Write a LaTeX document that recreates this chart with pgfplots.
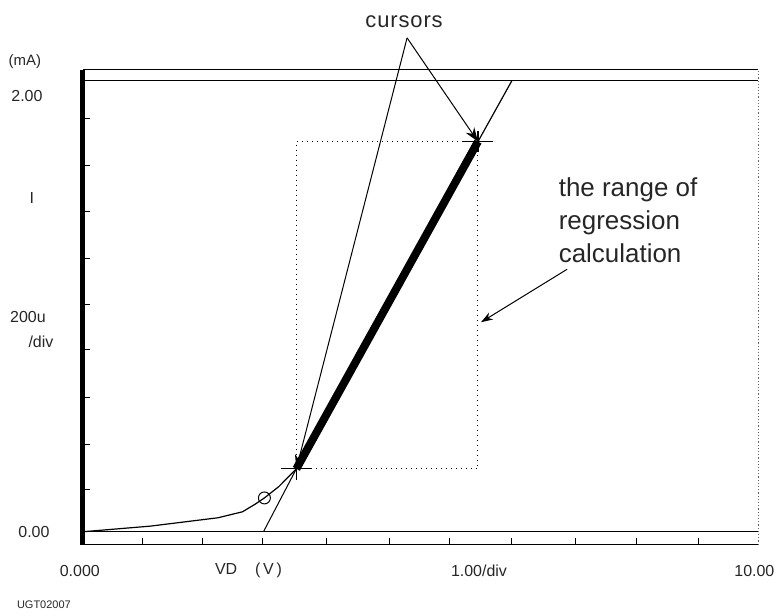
\documentclass[border=0pt]{standalone}
\usepackage{fontspec}
\setmainfont{Liberation Sans}
\usepackage{pgfplots}
\pgfplotsset{compat=1.18}
\usetikzlibrary{arrows.meta}
\begin{document}
\begin{tikzpicture}
\begin{axis}[
 x=33.85pt, y=113pt,
 xmin=0, xmax=10, ymin=-0.0575, ymax=2.049,
 axis x line*=bottom, axis y line*=left,
 axis line style={-},
 y axis line style={line width=2.5pt},
 x axis line style={line width=0.6pt},
 xtick={0.886,1.773,2.659,3.604,4.535,5.421,6.352,7.297,8.198,9.114},
 ytick={0.186,0.389,0.597,0.810,1.009,1.212,1.420,1.624,1.832},
 xticklabels={}, yticklabels={},
 tick align=inside, major tick length=3.5pt,
 tick style={black, line width=0.5pt},
 clip=false,
]
\path (axis cs:-1.226,-0.354) rectangle (axis cs:10.310,2.358);
% frame lines
\addplot[black, line width=0.5pt] coordinates {(0,2.049) (10,2.049)};
\addplot[black, line width=0.6pt] coordinates {(0,2.0) (10,2.0)};
\addplot[black, line width=0.6pt] coordinates {(0,0) (10,0)};
\addplot[black!60, line width=0.6pt, densely dotted] coordinates {(10,-0.0575) (10,2.049)};
% dotted regression range
\addplot[black, line width=0.5pt, dotted] coordinates {(3.161,0.279) (5.849,0.279) (5.849,1.730) (3.161,1.730) (3.161,0.279)};
% measured curve
\addplot[black, line width=0.6pt] coordinates {(0,0) (1,0.025) (2,0.062) (2.363,0.0885) (2.55,0.122) (2.688,0.150) (2.9,0.200) (3.161,0.279)};
\addplot[black, line width=4pt] coordinates {(3.161,0.279) (5.849,1.730)};
\addplot[black, line width=0.6pt] coordinates {(5.849,1.730) (6.351,2.0)};
% regression line
\addplot[black, line width=0.5pt] coordinates {(2.674,0) (3.161,0.279)};
% marker circle
\addplot[black, only marks, mark=o, mark size=3pt, line width=0.5pt] coordinates {(2.688,0.150)};
% cursors crosshairs
\addplot[black, line width=0.6pt] coordinates {(2.94,0.279) (3.38,0.279)};
\addplot[black, line width=0.6pt] coordinates {(3.161,0.229) (3.161,0.329)};
\addplot[black, line width=0.6pt] coordinates {(5.63,1.730) (6.07,1.730)};
\addplot[black, line width=0.6pt] coordinates {(5.849,1.685) (5.849,1.775)};
% cursor arrows
\draw[black, line width=0.5pt, -{Stealth[length=7pt,width=5pt]}] (axis cs:4.80,2.190) -- (axis cs:3.161,0.279);
\draw[black, line width=0.5pt, -{Stealth[length=7pt,width=5pt]}] (axis cs:4.80,2.190) -- (axis cs:5.849,1.730);
\draw[black, line width=0.5pt, -{Stealth[length=6pt,width=4pt]}] (axis cs:7.169,1.164) -- (axis cs:5.894,0.929);
% texts
\node[black!85, font=\fontsize{11}{13}\selectfont\addfontfeatures{LetterSpace=4}] at (axis cs:4.756,2.261) {cursors};
\node[black!85, anchor=west, align=left, font=\fontsize{13}{16.5}\selectfont] at (axis cs:6.942,1.381) {the range of\\regression\\calculation};
\node[black!85, font=\fontsize{7.5}{9}\selectfont] at (axis cs:-0.857,2.084) {(mA)};
\node[black!85, font=\fontsize{8}{9}\selectfont] at (axis cs:-0.827,1.934) {2.00};
\node[black!85, font=\fontsize{8}{9}\selectfont] at (axis cs:-0.753,1.482) {I};
\node[black!85, font=\fontsize{8}{9}\selectfont] at (axis cs:-0.812,0.951) {200u};
\node[black!85, font=\fontsize{8}{9}\selectfont] at (axis cs:-0.620,0.841) {/div};
\node[black!85, font=\fontsize{8}{9}\selectfont] at (axis cs:-0.724,0) {0.00};
\node[black!85, font=\fontsize{8}{9}\selectfont] at (axis cs:-0.044,-0.173) {0.000};
\node[black!85, font=\fontsize{8}{9}\selectfont] at (axis cs:2.452,-0.173) {VD\hspace{9pt}(\,V\,)};
\node[black!85, font=\fontsize{8}{9}\selectfont] at (axis cs:5.864,-0.173) {1.00/div};
\node[black!85, font=\fontsize{8}{9}\selectfont] at (axis cs:9.941,-0.173) {10.00};
\node[black!85, font=\fontsize{5.5}{7}\selectfont] at (axis cs:-0.576,-0.323) {UGT02007};
\end{axis}
\end{tikzpicture}
\end{document}
